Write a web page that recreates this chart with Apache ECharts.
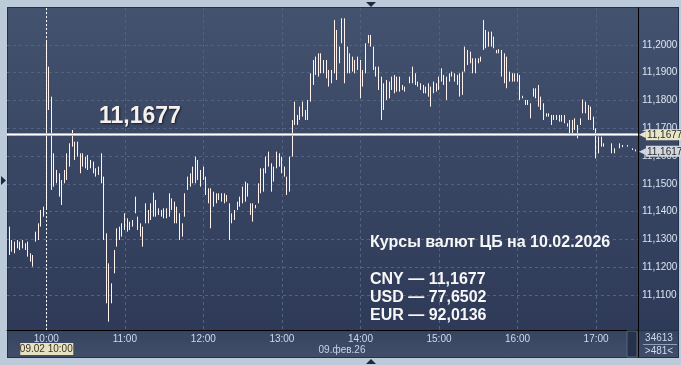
<!DOCTYPE html>
<html><head><meta charset="utf-8">
<script src="https://cdn.jsdelivr.net/npm/echarts@6/dist/echarts.min.js"></script>
<style>
html,body{margin:0;padding:0;width:681px;height:365px;overflow:hidden;background:#bccad9;}
#frame{position:absolute;left:7px;top:7px;width:672px;height:351px;background:#22304a;}
#plotbg{position:absolute;left:8px;top:8px;width:670px;height:322px;background:linear-gradient(#43526e,#2e3a58);}
#strip{position:absolute;left:8px;top:331px;width:670px;height:26px;background:linear-gradient(#36445f,#404e6a);}
#chart{position:absolute;left:0;top:0;width:681px;height:365px;}
</style></head><body>
<div id="frame"></div><div id="plotbg"></div><div id="strip"></div>
<div id="chart"></div>
<script>
// ---- data ----
const firstTime = '09:30';
const lastTime = '17:32';
const stepMinutes = 2;
const barsStart = '09:32';
const lows = [
 11.1244,11.1256,11.1250,11.1268,11.1262,11.1268,11.1262,11.1238,11.1220,11.1202,
 11.1292,11.1298,11.1346,11.1382,11.1406,11.1766,11.1478,11.1490,11.1502,11.1454,
 11.1424,11.1502,11.1514,11.1562,11.1634,11.1586,11.1598,11.1538,11.1562,11.1556,
 11.1550,11.1556,11.1538,11.1526,11.1532,11.1502,11.1298,11.1070,11.1004,11.1070,
 11.1178,11.1274,11.1298,11.1310,11.1334,11.1328,11.1334,11.1346,11.1394,11.1334,
 11.1310,11.1274,11.1358,11.1358,11.1370,11.1382,11.1382,11.1388,11.1382,11.1376,
 11.1376,11.1382,11.1406,11.1358,11.1358,11.1298,11.1310,11.1382,11.1478,11.1490,
 11.1502,11.1502,11.1514,11.1490,11.1514,11.1460,11.1430,11.1340,11.1418,11.1430,
 11.1442,11.1436,11.1430,11.1436,11.1298,11.1358,11.1370,11.1406,11.1418,11.1430,
 11.1436,11.1454,11.1388,11.1364,11.1412,11.1430,11.1466,11.1472,11.1538,11.1562,
 11.1472,11.1508,11.1556,11.1562,11.1538,11.1526,11.1460,11.1472,11.1598,11.1712,
 11.1712,11.1730,11.1742,11.1730,11.1730,11.1796,11.1856,11.1892,11.1886,11.1898,
 11.1898,11.1880,11.1850,11.1862,11.1898,11.1874,11.1934,11.2006,11.1862,11.1898,
 11.1898,11.1904,11.1898,11.1910,11.1808,11.1850,11.1898,11.2006,11.1994,11.1910,
 11.1886,11.1838,11.1730,11.1766,11.1802,11.1808,11.1838,11.1826,11.1832,11.1832,
 11.1838,11.1832,null,11.1862,11.1862,11.1856,11.1850,11.1838,11.1826,11.1826,
 11.1814,11.1778,11.1826,11.1832,11.1838,11.1868,11.1856,11.1802,11.1868,11.1886,
 11.1868,11.1856,11.1814,11.1820,11.1904,11.1928,11.1934,11.1898,11.1898,11.1934,
 11.1940,11.1982,11.1988,11.1994,11.1994,11.1988,11.1970,11.1970,11.1886,11.1862,
 11.1844,11.1868,11.1868,11.1868,11.1868,11.1802,11.1808,11.1784,11.1784,11.1736,
 11.1814,11.1808,11.1778,11.1766,11.1730,11.1742,11.1742,11.1712,11.1730,11.1730,
 11.1724,11.1724,11.1718,11.1706,11.1682,11.1682,11.1694,11.1664,11.1712,11.1754,
 11.1754,11.1730,11.1730,11.1694,11.1592,11.1610,11.1634,11.1634,null,null,
 11.1610,11.1610,null,11.1628,11.1632,null,11.1634,null,11.1622,11.1617
];
const highs = [
 11.1346,11.1298,11.1292,11.1298,11.1292,11.1298,11.1286,11.1292,11.1250,11.1244,
 11.1328,11.1358,11.1406,11.1418,11.2012,11.1922,11.1814,11.1610,11.1550,11.1538,
 11.1514,11.1550,11.1610,11.1646,11.1694,11.1652,11.1652,11.1610,11.1610,11.1598,
 11.1604,11.1586,11.1580,11.1556,11.1562,11.1610,11.1526,11.1322,11.1214,11.1142,
 11.1262,11.1340,11.1346,11.1358,11.1394,11.1376,11.1364,11.1370,11.1454,11.1382,
 11.1358,11.1346,11.1430,11.1406,11.1430,11.1468,11.1442,11.1412,11.1406,11.1412,
 11.1412,11.1466,11.1448,11.1436,11.1418,11.1394,11.1358,11.1466,11.1526,11.1538,
 11.1562,11.1598,11.1586,11.1550,11.1562,11.1526,11.1484,11.1484,11.1472,11.1466,
 11.1466,11.1466,11.1466,11.1460,11.1430,11.1394,11.1406,11.1436,11.1454,11.1490,
 11.1508,11.1502,11.1430,11.1430,11.1424,11.1502,11.1556,11.1556,11.1598,11.1616,
 11.1574,11.1562,11.1616,11.1610,11.1598,11.1562,11.1526,11.1598,11.1730,11.1796,
 11.1748,11.1778,11.1796,11.1766,11.1802,11.1898,11.1946,11.1958,11.1970,11.1970,
 11.1946,11.1946,11.1910,11.1910,11.2090,11.2054,11.1994,11.2096,11.2096,11.1994,
 11.1970,11.1958,11.1946,11.1958,11.1946,11.1910,11.2006,11.2036,11.2036,11.1994,
 11.1922,11.1922,11.1886,11.1862,11.1874,11.1868,11.1886,11.1892,11.1886,11.1886,
 11.1856,11.1850,null,11.1886,11.1922,11.1898,11.1868,11.1862,11.1856,11.1850,
 11.1862,11.1850,11.1868,11.1862,11.1886,11.1916,11.1892,11.1886,11.1898,11.1904,
 11.1898,11.1892,11.1898,11.1904,11.1994,11.1982,11.1976,11.1952,11.1952,11.1952,
 11.1958,11.2090,11.2054,11.2048,11.2048,11.2030,11.1982,11.1985,11.1982,11.1970,
 11.1958,11.1904,11.1898,11.1898,11.1898,11.1892,11.1817,11.1802,11.1802,11.1790,
 11.1844,11.1844,11.1856,11.1814,11.1790,11.1754,11.1754,11.1748,11.1748,11.1748,
 11.1748,11.1748,11.1748,11.1718,11.1730,11.1730,11.1736,11.1712,11.1736,11.1804,
 11.1796,11.1784,11.1778,11.1742,11.1700,11.1670,11.1670,11.1646,null,null,
 11.1646,11.1628,null,11.1646,11.1640,null,11.1640,null,11.1628,11.1624
];
const yTicks = [11.11, 11.12, 11.13, 11.14, 11.15, 11.16, 11.17, 11.18, 11.19, 11.20];
const cbRate = 11.1677;
const lastPrice = 11.1617;
const yMin = 11.0974, yMax = 11.2133;
const cbTitle = 'Курсы валют ЦБ на 10.02.2026';
const rateLines = ['CNY — 11,1677', 'USD — 77,6502', 'EUR — 92,0136'];
const dateLabel = '09.фев.26';
const cursorTime = '10:00';
const cursorLabel = '09.02 10:00';
const infoTop = '34613', infoBottom = '>481<';

// ---- build ----
const FONT = '"Liberation Sans", Arial, sans-serif';
function toMin(t){const p=t.split(':').map(Number);return p[0]*60+p[1];}
function fmtT(m){return String(Math.floor(m/60)).padStart(2,'0')+':'+String(m%60).padStart(2,'0');}
const categories=[];
for(let m=toMin(firstTime);m<=toMin(lastTime);m+=stepMinutes)categories.push(fmtT(m));
const offset=categories.indexOf(barsStart);
const candles=categories.map((c,k)=>{const j=k-offset;
  if(j<0||j>=lows.length||lows[j]==null)return '-';
  return [lows[j],highs[j],lows[j],highs[j]];});
const fmtP=v=>v.toFixed(4).replace('.',',');
const isTick=v=>yTicks.some(t=>Math.abs(t-v)<1e-7);
const isHour=(i,v)=>/:00$/.test(v);
const candleColor='#fff2ec';
const gridColor='#52627f';

const chart=echarts.init(document.getElementById('chart'),null,{renderer:'canvas'});
chart.setOption({
  animation:false,
  backgroundColor:'transparent',
  grid:{left:7,top:8,width:631,height:322},
  xAxis:{type:'category',data:categories,boundaryGap:false,
    axisLine:{show:true,lineStyle:{color:'#000',width:1}},
    axisTick:{show:false},
    axisLabel:{interval:isHour,color:'#cddaee',fontSize:10,fontFamily:FONT,margin:4,
      formatter:v=>v.replace(/^0/,'')},
    splitLine:{show:true,interval:isHour,lineStyle:{color:gridColor,type:[3,3],width:1}}},
  yAxis:{type:'value',position:'right',min:yMin,max:yMax,splitNumber:10,minInterval:0.01,maxInterval:0.01,
    axisLine:{show:true,lineStyle:{color:'#000',width:1}},
    axisTick:{show:false},
    axisLabel:{color:'#dbe4f2',fontSize:10,fontFamily:FONT,margin:4,showMinLabel:false,showMaxLabel:false,
      formatter:v=>isTick(v)?fmtP(v):''},
    splitLine:{show:false}},
  series:[
  {type:'line',data:[],z:1,silent:true,
    markLine:{symbol:'none',silent:true,animation:false,precision:4,z:1,
      lineStyle:{color:gridColor,type:[3,3],width:1},label:{show:false},
      data:yTicks.map(v=>({yAxis:v}))}},
  {type:'candlestick',data:candles,barWidth:1,z:2,
    itemStyle:{color:candleColor,color0:candleColor,borderColor:candleColor,borderColor0:candleColor,borderWidth:1},
    markLine:{symbol:'none',silent:true,animation:false,precision:4,
      data:[
        {xAxis:cursorTime,lineStyle:{color:'#ffffff',type:[2,2],width:1},label:{show:false}},
        {yAxis:cbRate,lineStyle:{color:'#aeb4c0',width:3,type:'solid'},
          label:{show:true,position:'insideStartTop',distance:[92,7],formatter:fmtP(cbRate),
            color:'#f6f1ee',fontSize:23,fontWeight:'bold',fontFamily:FONT,
            textShadowColor:'rgba(0,0,0,0.6)',textShadowBlur:2,textShadowOffsetX:1,textShadowOffsetY:1}},
        {yAxis:cbRate,lineStyle:{color:'#ffffff',width:1,type:'solid'},
          label:{show:true,position:'end',distance:1,formatter:'{a|◀}{b|'+fmtP(cbRate)+'}',
            rich:{a:{color:'#e9e6c8',fontSize:9,fontFamily:'DejaVu Sans'},
                  b:{backgroundColor:'#e9e6c8',color:'#2a2a2a',fontSize:10,fontFamily:FONT,padding:[1,2,0,1]}}}},
        {yAxis:lastPrice,lineStyle:{color:'rgba(0,0,0,0)',width:1,type:'solid'},
          label:{show:true,position:'end',distance:1,formatter:'{a|◀}{b|'+fmtP(lastPrice)+'}',
            rich:{a:{color:'#d3d8e0',fontSize:9,fontFamily:'DejaVu Sans'},
                  b:{backgroundColor:'#d3d8e0',color:'#2a2a2a',fontSize:10,fontFamily:FONT,padding:[1,2,0,1]}}}}
      ]}
  }]
});

const cx=chart.convertToPixel({xAxisIndex:0},cursorTime);
const txtStyle=(t,x,y)=>({text:t,x:x,y:y,fill:'#f7f7f7',font:'bold 16px '+FONT,verticalAlign:'middle'});
chart.setOption({graphic:[
  {type:'text',z:50,style:txtStyle(cbTitle,370,243)},
  {type:'text',z:50,style:txtStyle(rateLines[0],370,280)},
  {type:'text',z:50,style:txtStyle(rateLines[1],370,298)},
  {type:'text',z:50,style:txtStyle(rateLines[2],370,316)},
  {type:'text',z:50,style:{text:dateLabel,x:342,y:350,align:'center',verticalAlign:'middle',fill:'#c8d4ea',font:'10px '+FONT}},
  {type:'rect',z:50,shape:{x:cx-26,y:343,width:53,height:12},style:{fill:'#e7e3c2'}},
  {type:'text',z:51,style:{text:cursorLabel,x:cx,y:349.5,align:'center',verticalAlign:'middle',fill:'#3b3020',font:'10px '+FONT}},
  {type:'rect',z:50,shape:{x:627,y:331,width:10,height:26},style:{fill:'#26324a',stroke:'#55637e',lineWidth:1}},
  {type:'line',z:50,shape:{x1:638.5,y1:330,x2:638.5,y2:357},style:{stroke:'#000',lineWidth:1}},
  {type:'line',z:50,shape:{x1:643,y1:344.5,x2:677,y2:344.5},style:{stroke:'#8fa0ba',lineWidth:1}},
  {type:'text',z:50,style:{text:infoTop,x:659,y:338,align:'center',verticalAlign:'middle',fill:'#cddaee',font:'10px '+FONT}},
  {type:'text',z:50,style:{text:infoBottom,x:659,y:351,align:'center',verticalAlign:'middle',fill:'#cddaee',font:'10px '+FONT}},
  {type:'polygon',z:50,shape:{points:[[366,2],[376,2],[371,7]]},style:{fill:'#1d2a42'}},
  {type:'polygon',z:50,shape:{points:[[366,364],[376,364],[371,359]]},style:{fill:'#1d2a42'}},
  {type:'polygon',z:50,shape:{points:[[1,176],[1,185],[6,180.5]]},style:{fill:'#1d2a42'}}
]});
</script></body></html>
